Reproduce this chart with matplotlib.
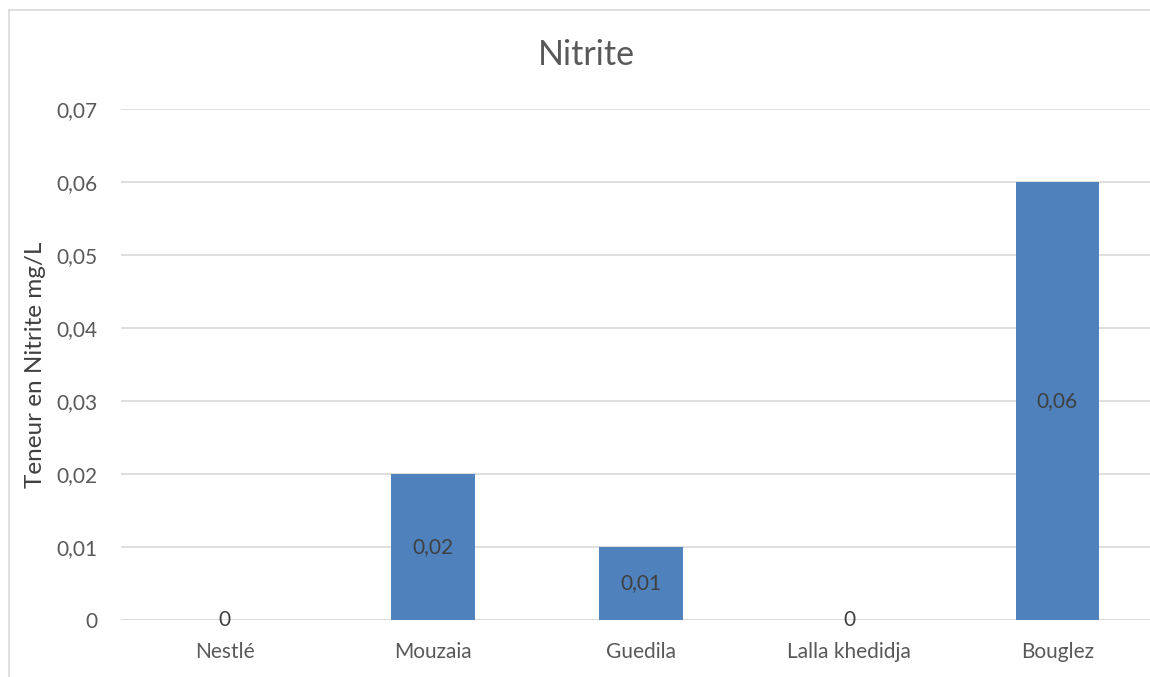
import matplotlib
matplotlib.use("Agg")
import matplotlib.pyplot as plt
from matplotlib.lines import Line2D

categories = ["Nestlé", "Mouzaia", "Guedila", "Lalla khedidja", "Bouglez"]
nitrite = [0.0, 0.02, 0.01, 0.0, 0.06]
y_ticks = [0, 0.01, 0.02, 0.03, 0.04, 0.05, 0.06, 0.07]

def fr(v):
    return "0" if v == 0 else f"{v:.2f}".replace(".", ",")

plt.rcParams["font.family"] = ["Lato", "DejaVu Sans"]
text_color = "#595959"
grid_color = "#D9D9D9"

fig = plt.figure(figsize=(11.5, 6.77), dpi=100)
ax = fig.add_axes([0.105, 0.0842, 0.905, 0.7548])

x = list(range(len(categories)))
bars = ax.bar(x, nitrite, width=0.4, color="#4F81BD", zorder=3)

for xi, v in zip(x, nitrite):
    ax.text(xi, v / 2, fr(v), ha="center", va="center", fontsize=15,
            color="#404040", zorder=4)

ax.set_xlim(-0.5, len(categories) - 0.5)
ax.set_ylim(0, 0.07)
ax.set_yticks(y_ticks)
ax.set_yticklabels([fr(v) for v in y_ticks])
ax.set_xticks(x)
ax.set_xticklabels(categories)
ax.tick_params(axis="both", length=0, colors=text_color, labelsize=15)
ax.tick_params(axis="y", pad=16.5)
ax.tick_params(axis="x", pad=16)
ax.yaxis.grid(True, color=grid_color, linewidth=1.2, zorder=0)
ax.set_axisbelow(True)
for s in ax.spines.values():
    s.set_visible(False)
ax.axhline(0, color=grid_color, linewidth=1.2, zorder=2)

ax.set_ylabel("Teneur en Nitrite mg/L", fontsize=17.5, color="#404040", labelpad=8)
fig.text(586 / 1150, 1 - 55 / 677, "Nitrite", ha="center", va="center",
         fontsize=24.5, color=text_color)

# chart frame (left and top edges)
fig.add_artist(Line2D([9 / 1150, 9 / 1150], [0, 1 - 10 / 677],
                      transform=fig.transFigure, color=grid_color, linewidth=1.2))
fig.add_artist(Line2D([9 / 1150, 1], [1 - 10 / 677, 1 - 10 / 677],
                      transform=fig.transFigure, color=grid_color, linewidth=1.2))

fig.savefig("out.png", dpi=100, facecolor="white")
